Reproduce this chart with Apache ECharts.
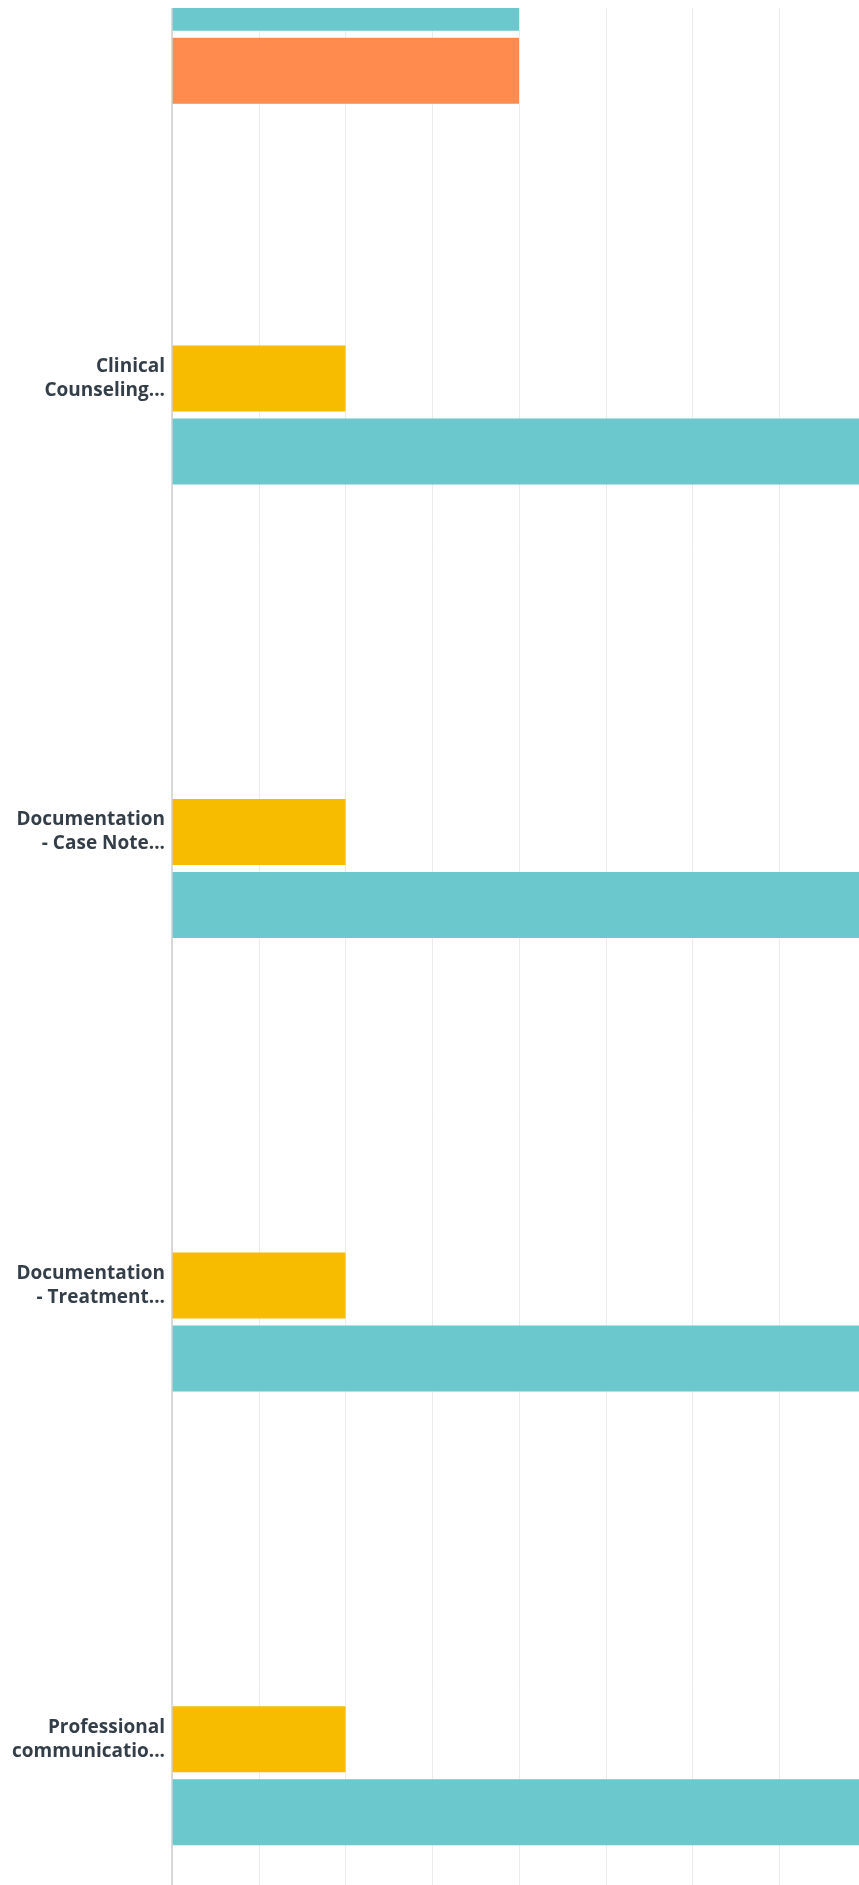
<!DOCTYPE html>
<html><head><meta charset="utf-8">
<script src="https://cdn.jsdelivr.net/npm/echarts@6/dist/echarts.min.js"></script>
<style>
html,body{margin:0;padding:0;overflow:hidden;background:#fff;width:859px;height:1885px;}
#clip{position:absolute;left:0;top:8px;width:859px;height:1877px;overflow:hidden;}
#chart{position:absolute;left:0;top:-310px;width:1100px;height:2310px;}
</style></head><body>
<div id="clip"><div id="chart"></div></div>
<script>
// Categories (top to bottom); the first one's label lies above the visible crop
const categories = ["", "Clinical Counseling...", "Documentation - Case Note...", "Documentation - Treatment...", "Professional communicatio..."];
const tickLabels = ["", "Clinical\nCounseling...", "Documentation\n- Case Note...", "Documentation\n- Treatment...", "Professional\ncommunicatio..."];
const seriesNames = ["Series 1", "Series 2", "Series 3", "Series 4", "Series 5"];
const valuesS1 = [0, 0, 0, 0, 0];
const valuesS2 = [0, 0, 0, 0, 0];
const valuesYellow = [0, 20, 20, 20, 20];
const valuesTeal = [40, 100, 100, 100, 100];
const valuesOrange = [40, 0, 0, 0, 0];
const seriesColors = ["#00BF6F", "#507CB6", "#F7BC00", "#6BC8CD", "#FF8B4F"];

const allValues = [valuesS1, valuesS2, valuesYellow, valuesTeal, valuesOrange];
const chart = echarts.init(document.getElementById('chart'), null, {renderer: 'canvas'});
chart.setOption({
  animation: false,
  grid: {left: 172, top: 0, width: 867.5, height: 2268},
  xAxis: {
    type: 'value', min: 0, max: 100, interval: 10,
    axisLine: {show: false}, axisTick: {show: false},
    axisLabel: {formatter: '{value}%', color: '#333e48', fontFamily: 'Open Sans'},
    splitLine: {lineStyle: {color: '#ebebeb', width: 1}}
  },
  yAxis: {
    type: 'category', inverse: true, data: categories, z: 5,
    axisLine: {lineStyle: {color: '#cfcfcf', width: 1.5}},
    axisTick: {show: false},
    axisLabel: {
      formatter: function (v, i) { return tickLabels[i]; },
      fontFamily: 'Open Sans', fontWeight: 700, fontSize: 19, lineHeight: 24,
      color: '#333e48', margin: 7, align: 'right'
    }
  },
  series: allValues.map(function (vals, k) {
    return {
      type: 'bar', name: seriesNames[k], data: vals,
      barWidth: 66, barGap: '10.6%',
      itemStyle: {color: seriesColors[k]}
    };
  })
});
</script></body></html>
